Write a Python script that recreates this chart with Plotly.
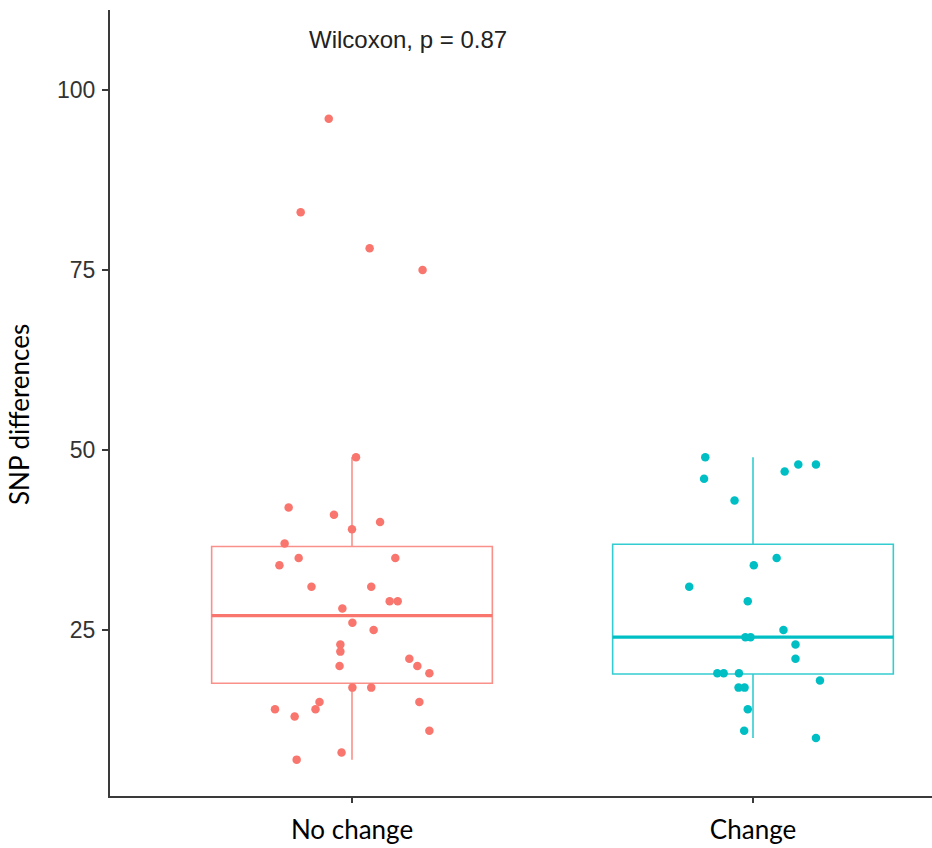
import plotly.graph_objects as go

# ---------------- data ----------------
categories = ["No change", "Change"]

no_change_values = [96, 83, 78, 75, 49, 42, 41, 40, 39, 37, 35, 35, 34, 31, 31, 29, 29, 28,
                    26, 25, 23, 22, 20, 21, 20, 19, 17, 17, 15, 15, 14, 14, 13, 11, 8, 7]
no_change_jitter = [-0.058, -0.128, 0.044, 0.176, 0.010, -0.158, -0.045, 0.070, 0.000, -0.168,
                    -0.133, 0.108, -0.181, -0.101, 0.048, 0.094, 0.114, -0.024,
                    0.001, 0.054, -0.029, -0.029, -0.031, 0.143, 0.163, 0.193, 0.001, 0.048,
                    -0.081, 0.168, -0.192, -0.091, -0.143, 0.193, -0.026, -0.138]

change_values = [49, 46, 43, 47, 48, 48, 35, 34, 31, 29, 25, 24, 24, 23, 21, 19, 19, 19,
                 18, 17, 17, 14, 11, 10]
change_jitter = [-0.119, -0.122, -0.046, 0.079, 0.113, 0.157, 0.059, 0.002, -0.159, -0.013,
                 0.076, -0.019, -0.006, 0.106, 0.106, -0.089, -0.073, -0.035,
                 0.167, -0.036, -0.021, -0.013, -0.022, 0.157]

# box statistics
box_q1 = [17.6, 18.9]
box_median = [27, 24]
box_q3 = [36.6, 36.9]
box_lower = [7, 10]
box_upper = [49, 49]

y_ticks = [25, 50, 75, 100]
test_label = "Wilcoxon, p = 0.87"

# ---------------- styling ----------------
colors = ["#F8766D", "#00BFC4"]
box_line_colors = ["rgba(248,118,109,0.8)", "rgba(0,191,196,0.8)"]
BOX_W = 0.70

FIG_W, FIG_H = 932, 848
M_L, M_R, M_T, M_B = 110, 0, 10, 52
PLOT_W = FIG_W - M_L - M_R
PLOT_H = FIG_H - M_T - M_B

fig = go.Figure()

groups = [(no_change_values, no_change_jitter), (change_values, change_jitter)]
for i, cat in enumerate(categories):
    xpos = i + 1
    fig.add_trace(go.Box(
        x=[xpos], q1=[box_q1[i]], median=[box_median[i]], q3=[box_q3[i]],
        lowerfence=[box_lower[i]], upperfence=[box_upper[i]],
        width=BOX_W, whiskerwidth=0, fillcolor="rgba(255,255,255,0)",
        line=dict(color=box_line_colors[i], width=1.6),
        boxpoints=False, showlegend=False, hoverinfo="skip",
    ))
    # thicker median line
    fig.add_trace(go.Scatter(
        x=[xpos - BOX_W / 2, xpos + BOX_W / 2], y=[box_median[i], box_median[i]],
        mode="lines", line=dict(color=colors[i], width=3.2),
        showlegend=False, hoverinfo="skip",
    ))

for i, cat in enumerate(categories):
    vals, jit = groups[i]
    fig.add_trace(go.Scatter(
        x=[i + 1 + j for j in jit], y=vals, mode="markers",
        marker=dict(color=colors[i], size=8.5, line=dict(width=0)),
        showlegend=False, name=cat,
    ))

fig.add_annotation(
    x=0.888, y=107.0, xref="x", yref="y", text=test_label, showarrow=False,
    xanchor="left", yanchor="middle",
    font=dict(family="Liberation Sans, Arial", size=24, color="#222222"),
)

fig.add_annotation(
    x=(19 - M_L) / PLOT_W, y=(796 - 415) / PLOT_H, xref="paper", yref="paper",
    text="SNP differences", textangle=-90, showarrow=False,
    xanchor="center", yanchor="middle", borderpad=0,
    font=dict(family="Lato, Calibri, sans-serif", size=26, color="#000000"),
)

fig.update_layout(
    width=FIG_W, height=FIG_H,
    margin=dict(l=M_L, r=M_R, t=M_T, b=M_B, autoexpand=False),
    paper_bgcolor="white", plot_bgcolor="white",
    xaxis=dict(
        range=[0.3965, 2.4464], tickmode="array", tickvals=[1, 2], ticktext=categories,
        showgrid=False, zeroline=False, showline=True, linecolor="#3a3a3a", linewidth=2,
        ticks="outside", ticklen=5, tickwidth=2, tickcolor="#3a3a3a",
        tickfont=dict(family="Lato, Calibri, sans-serif", size=26, color="#000000"),
        ticklabelstandoff=5,
    ),
    yaxis=dict(
        range=[1.95, 111.1], tickmode="array", tickvals=y_ticks,
        showgrid=False, zeroline=False, showline=True, linecolor="#3a3a3a", linewidth=2,
        ticks="outside", ticklen=6, tickwidth=2, tickcolor="#3a3a3a",
        tickfont=dict(family="Liberation Sans, Arial", size=23, color="#333333"),
        ticklabelstandoff=2,
    ),
)

# remove the default 8px page margin so the figure starts at the window corner
fig.write_html("out.html", config={"displayModeBar": False},
               post_script="document.body.style.margin='0';")
